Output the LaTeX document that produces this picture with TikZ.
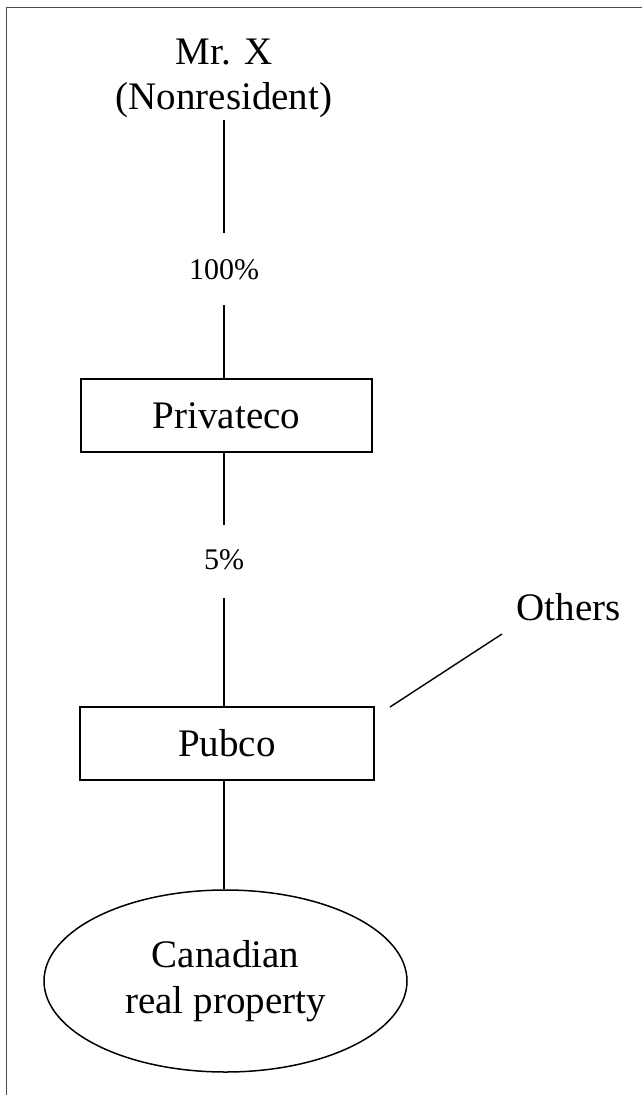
\documentclass[tikz,border=0pt]{standalone}
\usepackage{fontspec}
\setmainfont{Liberation Serif}
\usetikzlibrary{shapes.geometric}
\begin{document}
\begin{tikzpicture}[x=1pt,y=-1pt,
  big/.style={font=\fontsize{39}{45}\selectfont, align=center, inner sep=0pt},
  pct/.style={font=\fontsize{30}{36}\selectfont, inner sep=0pt},
  entity/.style={draw, line width=1.5pt, minimum height=73pt, inner sep=0pt,
    font=\fontsize{39}{47}\selectfont},
  link/.style={line width=1.4pt},
  frame/.style={line width=1.6pt, draw=black!70}]
\useasboundingbox (0,0) rectangle (641,1095);
\draw[frame] (6.5,1096) -- (6.5,7.5) -- (642,7.5);

\node[big] (mrx) at (224,78) {Mr. X\\(Nonresident)};
\node[pct] (p100) at (224,269.5) {100\%};
\node[entity, minimum width=291pt] (priv) at (226.5,415.5) {Privateco};
\node[pct] (p5) at (224,559.5) {5\%};
\node[entity, minimum width=294pt] (pub) at (227,743.5) {Pubco};
\node[big, anchor=base] (oth) at (568.5,620) {Others};
\node[draw, ellipse, line width=1.5pt, minimum width=363pt, minimum height=182pt,
  inner sep=0pt, font=\fontsize{39}{46}\selectfont, align=center] (prop) at (225.5,981)
  {Canadian\\real property};

\coordinate (m1) at (224,120);
\coordinate (m2) at (224,233);
\coordinate (m3) at (224,305);
\coordinate (m4) at (224,525);
\coordinate (m5) at (224,598);
\coordinate (oa) at (502,634);
\coordinate (ob) at (390,707);

\draw[link] (m1) -- (m2);
\draw[link] (m3) -- (m3 |- priv.north);
\draw[link] (m3 |- priv.south) -- (m4);
\draw[link] (m5) -- (m5 |- pub.north);
\draw[link] (m5 |- pub.south) -- (m5 |- prop.north);
\draw[link] (oa) -- (ob);
\end{tikzpicture}
\end{document}
